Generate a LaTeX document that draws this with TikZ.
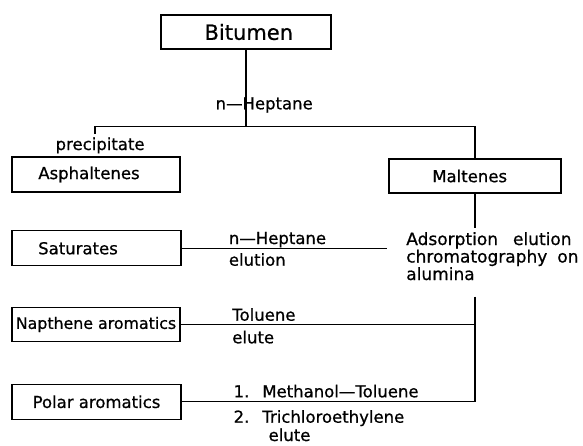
\documentclass[tikz,border=0pt]{standalone}
\usepackage{fontspec}
\setmainfont{DejaVu Sans}[FakeBold=0.7]
\begin{document}
\begin{tikzpicture}[x=1pt,y=-1pt, line width=1.2pt,
  box/.style={draw, rectangle, inner sep=0pt, minimum width=#1, minimum height=35pt,
    font=\fontsize{16.5}{19}\selectfont},
  lbl/.style={anchor=base west, inner sep=0pt, font=\fontsize{16.5}{19}\selectfont},
  adslbl/.style={anchor=base west, inner sep=0pt, font=\fontsize{17}{20}\selectfont}]
\useasboundingbox (0,0) rectangle (583,445);

% boxes
\node[box=170pt, minimum height=34pt, font=\fontsize{21}{25}\selectfont] (bit) at (246,32) {\hspace*{5.6pt}Bitumen};
\node[box=168pt] (asph) at (96,174.5) {\hspace*{-14pt}Asphaltenes};
\node[box=172pt, minimum height=34pt] (malt) at (475,176) {\hspace*{-10.6pt}Maltenes};
\node[box=169pt] (sat) at (96.5,248.3) {\hspace*{-37pt}Saturates};
\node[box=168pt, minimum height=34.5pt, font=\fontsize{15.8}{19}\selectfont] (nap) at (96,324.5) {Napthene aromatics};
\node[box=169pt] (polar) at (96.5,401.8) {Polar aromatics};

% labels
\node[lbl] (hep1) at (215,109.3) {n—Heptane};
\node[lbl] (prec) at (55,150) {precipitate};
\node[lbl] (hep2) at (228.3,244) {n—Heptane};
\node[lbl] (elu1) at (228.3,265.7) {elution};
\node[adslbl] (ads1) at (405.7,245) {Adsorption\hspace{15pt}elution};
\node[adslbl] (ads2) at (405.7,262.5) {chromatography\hspace{10pt}on};
\node[adslbl] (ads3) at (405.7,280) {alumina};
\node[lbl] (tol) at (231.7,320.7) {Toluene};
\node[lbl] (elu2) at (231.7,343.3) {elute};
\node[lbl] (m1) at (233,397.3) {1.\hspace{13pt}Methanol—Toluene};
\node[lbl] (m2) at (233,422.7) {2.\hspace{13pt}Trichloroethylene};
\node[lbl] (elu3) at (268,441) {elute};

% connectors
\coordinate (tick) at (95,134);
\coordinate (hl) at (95,126.7);
\draw (tick) -- (hl) -| (malt.north);
\draw (bit.south) -- (bit.south |- hl);
\coordinate (adsTop) at (475,228);
\draw (malt.south) -- (adsTop);
\coordinate (satEnd) at (387,248.3);
\draw (sat.east) -- (satEnd);
\coordinate (adsBot) at (475,296.7);
\draw (adsBot) |- (polar.east);
\draw (nap.east) -- (nap.east -| adsBot);
\end{tikzpicture}
\end{document}
